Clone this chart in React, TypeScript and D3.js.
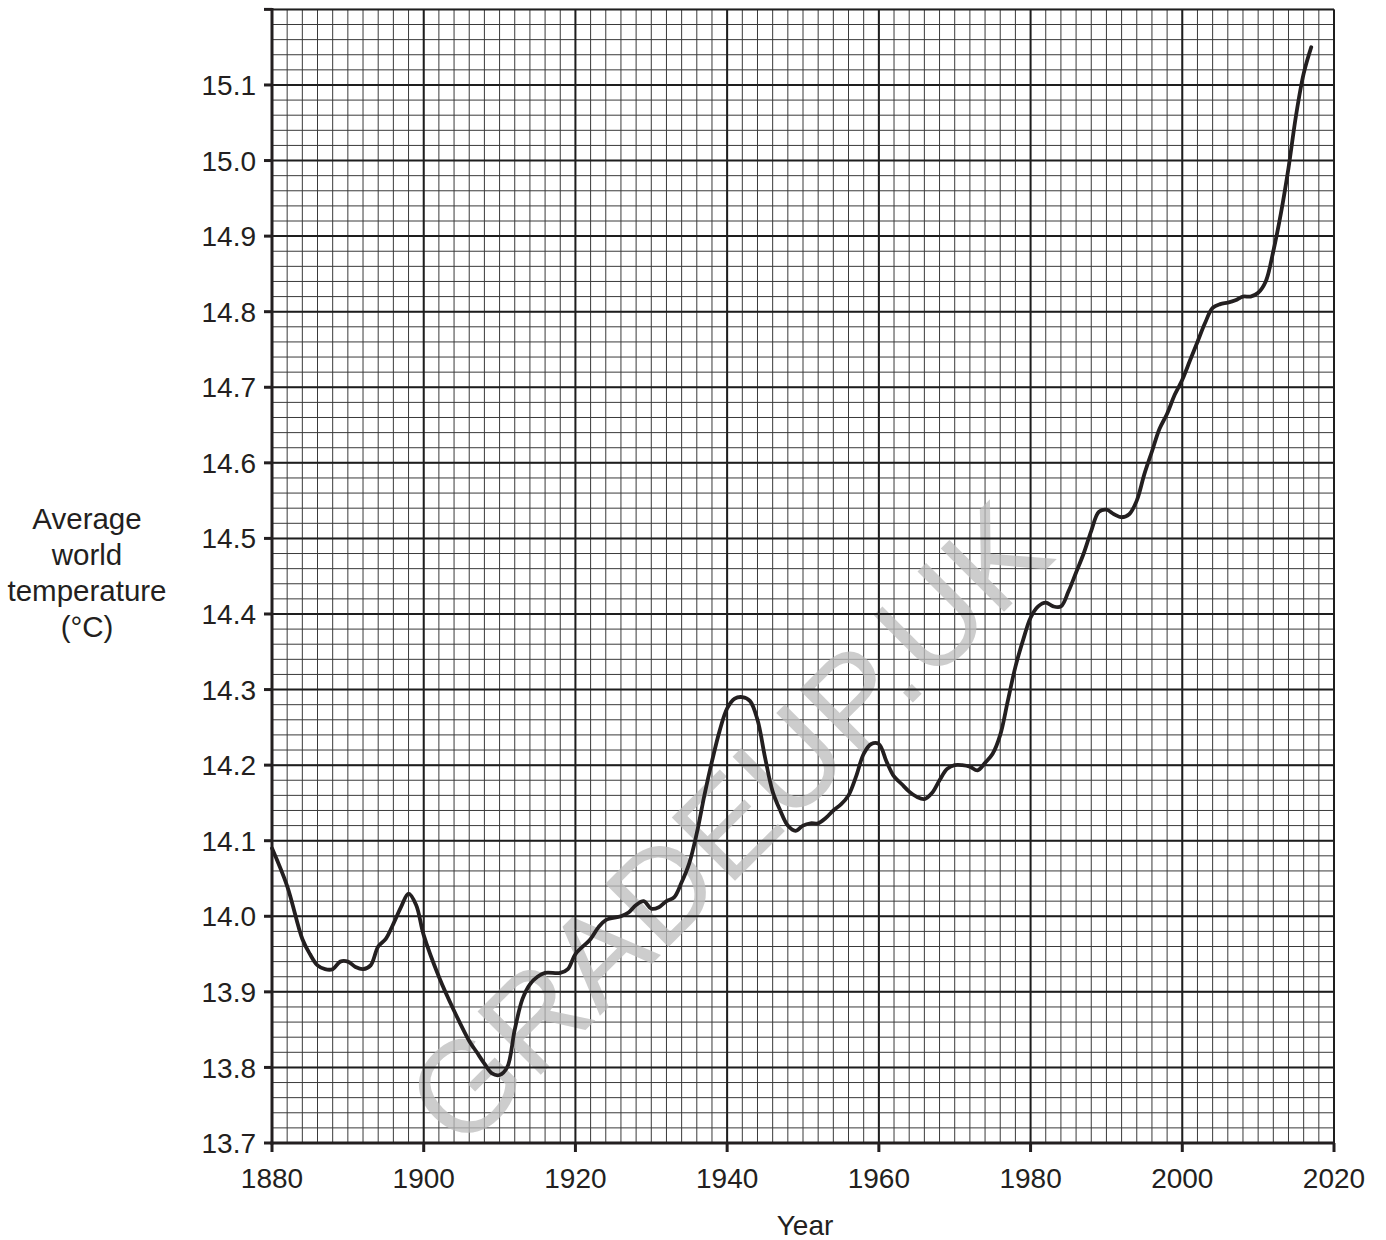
import React from "react";
import * as d3 from "d3";

const years = [1880,1882,1884,1885,1886,1887,1888,1889,1890,1891,1892,1893,1894,1895,1896,1897,1898,1899,1900,1902,1904,1906,1907,1908,1909,1910,1911,1912,1913,1914,1915,1916,1918,1919,1920,1922,1923,1924,1926,1927,1928,1929,1930,1931,1932,1933,1934,1935,1936,1937,1938,1939,1940,1941,1942,1943,1944,1945,1946,1947,1948,1949,1950,1951,1952,1953,1954,1955,1956,1957,1958,1959,1960,1961,1962,1963,1964,1965,1966,1967,1968,1969,1970,1971,1972,1973,1974,1975,1976,1977,1978,1979,1980,1981,1982,1983,1984,1985,1986,1987,1988,1989,1990,1991,1992,1993,1994,1995,1996,1997,1998,1999,2000,2001,2002,2003,2004,2005,2006,2007,2008,2009,2010,2011,2012,2013,2014,2015,2016,2017];
const temps = [14.09,14.04,13.97,13.95,13.935,13.93,13.93,13.94,13.94,13.933,13.93,13.935,13.96,13.97,13.99,14.012,14.03,14.015,13.975,13.92,13.875,13.835,13.82,13.805,13.792,13.79,13.80,13.85,13.89,13.91,13.92,13.925,13.925,13.93,13.95,13.97,13.985,13.995,14.00,14.005,14.015,14.02,14.01,14.012,14.02,14.025,14.045,14.07,14.11,14.16,14.205,14.245,14.275,14.288,14.29,14.285,14.26,14.21,14.165,14.14,14.12,14.113,14.12,14.123,14.123,14.13,14.14,14.148,14.16,14.185,14.215,14.228,14.228,14.205,14.185,14.175,14.165,14.158,14.155,14.163,14.18,14.195,14.20,14.20,14.198,14.193,14.203,14.215,14.24,14.285,14.33,14.365,14.395,14.41,14.415,14.41,14.41,14.43,14.455,14.48,14.51,14.535,14.538,14.532,14.528,14.532,14.55,14.585,14.615,14.645,14.665,14.69,14.71,14.735,14.76,14.785,14.805,14.81,14.812,14.815,14.82,14.82,14.825,14.84,14.88,14.93,14.99,15.06,15.115,15.15];

const yTicks = [13.7,13.8,13.9,14.0,14.1,14.2,14.3,14.4,14.5,14.6,14.7,14.8,14.9,15.0,15.1];
const xTicks = [1880,1900,1920,1940,1960,1980,2000,2020];
const yLabelLines = ["Average","world","temperature","(°C)"];
const xTitle = "Year";
const watermark = "GRADEUP.UK";

export default function App() {
  const W = 1386, H = 1240;
  const x = d3.scaleLinear().domain([1880, 2020]).range([272, 1334]);
  const y = d3.scaleLinear().domain([13.7, 15.2]).range([1143, 9.4]);
  const font = "'Liberation Sans', Arial, Helvetica, sans-serif";

  const minorX = d3.range(1880, 2021, 2);
  const minorY = d3.range(0, 76).map(i => 13.7 + i * 0.02);
  const majorX = d3.range(1880, 2021, 20);
  const majorY = d3.range(0, 16).map(i => 13.7 + i * 0.1);

  const line = d3.line<number>()
    .x((_, i) => x(years[i]))
    .y(d => y(d))
    .curve(d3.curveCatmullRom.alpha(0.5));

  const [x0, x1] = x.range();
  const [y0, y1] = y.range();

  return (
    <svg width={W} height={H} style={{ position: "absolute", left: 0, top: 0, background: "#fff" }} fontFamily={font}>
      <rect x={0} y={0} width={W} height={H} fill="#fff" />
      {/* minor grid */}
      <g stroke="#3a3a3a" strokeWidth={1}>
        {minorX.map(v => (
          <line key={"mx" + v} x1={x(v)} x2={x(v)} y1={y1} y2={y0} />
        ))}
        {minorY.map((v, i) => (
          <line key={"my" + i} x1={x0} x2={x1} y1={y(v)} y2={y(v)} />
        ))}
      </g>
      {/* watermark */}
      <text
        x={728}
        y={824}
        transform="rotate(-45 728 824)"
        textAnchor="middle"
        dominantBaseline="central"
        fontSize={130}
        fill="#bdbdbd"
        opacity={0.75}
      >
        {watermark}
      </text>
      {/* major grid */}
      <g stroke="#1e1e1e" strokeWidth={2}>
        {majorX.map(v => (
          <line key={"Mx" + v} x1={x(v)} x2={x(v)} y1={y1} y2={y0} />
        ))}
        {majorY.map((v, i) => (
          <line key={"My" + i} x1={x0} x2={x1} y1={y(v)} y2={y(v)} />
        ))}
      </g>
      {/* curve */}
      <path d={line(temps) || ""} fill="none" stroke="#231f20" strokeWidth={3.8} strokeLinejoin="round" strokeLinecap="round" />
      {/* axes */}
      <g stroke="#231f20" strokeWidth={3}>
        <line x1={x0} x2={x0} y1={y1 - 1.5} y2={y0 + 1.5} />
        <line x1={x0 - 1.5} x2={x1 + 1} y1={y0} y2={y0} />
        {majorY.map((v, i) => (
          <line key={"ty" + i} x1={x0 - 8} x2={x0} y1={y(v)} y2={y(v)} />
        ))}
        {xTicks.map(v => (
          <line key={"tx" + v} x1={x(v)} x2={x(v)} y1={y0} y2={y0 + 9} />
        ))}
      </g>
      {/* tick labels */}
      <g fontSize={28} fill="#231f20">
        {yTicks.map(v => (
          <text key={"ly" + v} x={256} y={y(v)} dy="0.36em" textAnchor="end">
            {v.toFixed(1)}
          </text>
        ))}
        {xTicks.map(v => (
          <text key={"lx" + v} x={x(v)} y={1188} textAnchor="middle">
            {v}
          </text>
        ))}
        <text x={805} y={1235} textAnchor="middle">{xTitle}</text>
        {yLabelLines.map((s, i) => (
          <text key={"yl" + i} x={87} y={529 + i * 36} textAnchor="middle" fontSize={29.5}>{s}</text>
        ))}
      </g>
    </svg>
  );
}
